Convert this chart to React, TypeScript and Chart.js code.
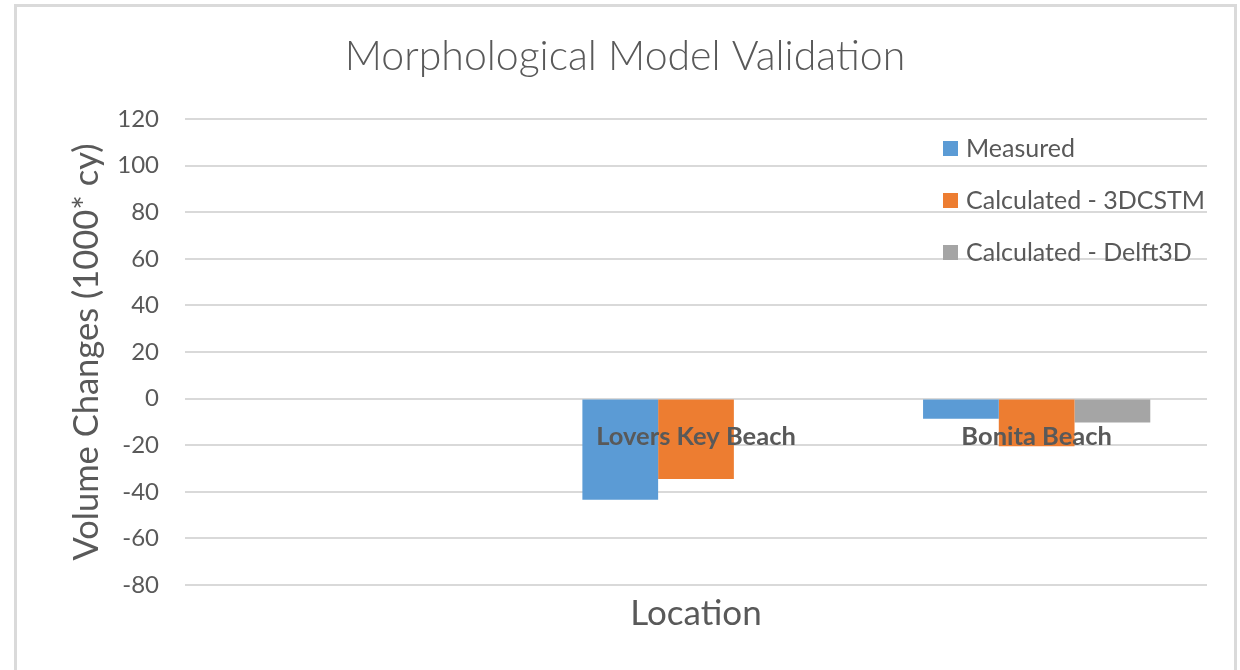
import React, { useEffect, useRef } from "react";
import { Chart, registerables } from "chart.js";

Chart.register(...registerables);

const categories = ["", "Lovers Key Beach", "Bonita Beach"];
const measured = [null, -43.4, -8.6];
const calc3DCSTM = [null, -34.5, -20.5];
const calcDelft3D = [null, null, -10.3];
const seriesNames = ["Measured", "Calculated - 3DCSTM", "Calculated - Delft3D"];
const seriesColors = ["#5B9BD5", "#ED7D31", "#A5A5A5"];
const yMin = -80;
const yMax = 120;
const yStep = 20;
const chartTitle = "Morphological Model Validation";
const yTitle = "Volume Changes (1000* cy)";
const xTitle = "Location";

const FONT = "Lato";
const TEXT = "#595959";
const GRID = "#D9D9D9";

const framePlugin = {
  id: "frame",
  beforeDraw(chart: any) {
    const ctx = chart.ctx;
    ctx.save();
    ctx.fillStyle = "#FFFFFF";
    ctx.fillRect(0, 0, chart.width, chart.height);
    ctx.fillStyle = "#DADADA";
    ctx.fillRect(14, 4, 1223, 3);
    ctx.fillRect(14, 4, 3, chart.height - 4);
    ctx.fillRect(1234, 4, 3, chart.height - 4);
    ctx.restore();
  },
};

const titlePlugin = {
  id: "customTitle",
  afterDraw(chart: any) {
    const ctx = chart.ctx;
    ctx.save();
    ctx.font = `300 41px ${FONT}`;
    ctx.fillStyle = TEXT;
    ctx.textAlign = "center";
    ctx.textBaseline = "middle";
    ctx.fillText(chartTitle, 625, 57);
    ctx.restore();
  },
};

const categoryLabelPlugin = {
  id: "catLabels",
  afterDatasetsDraw(chart: any) {
    const ctx = chart.ctx;
    const xs = chart.scales.x;
    const ys = chart.scales.y;
    const y0 = ys.getPixelForValue(0);
    ctx.save();
    ctx.font = `bold 25.5px ${FONT}`;
    ctx.fillStyle = TEXT;
    ctx.textAlign = "center";
    ctx.textBaseline = "middle";
    categories.forEach((c, i) => {
      if (!c) return;
      ctx.fillText(c, xs.getPixelForValue(i), y0 + 38);
    });
    ctx.restore();
  },
};

const legendPlugin = {
  id: "customLegend",
  afterDraw(chart: any) {
    const ctx = chart.ctx;
    const area = chart.chartArea;
    const x = area.right - 264;
    ctx.save();
    ctx.font = `25px ${FONT}`;
    ctx.textAlign = "left";
    ctx.textBaseline = "middle";
    seriesNames.forEach((name, i) => {
      const cy = area.top + 30 + i * 52;
      ctx.fillStyle = seriesColors[i];
      ctx.fillRect(x, cy - 8, 15, 15);
      ctx.fillStyle = TEXT;
      ctx.fillText(name, x + 23, cy);
    });
    ctx.restore();
  },
};

export default function App() {
  const ref = useRef<HTMLCanvasElement | null>(null);

  useEffect(() => {
    if (!ref.current) return;
    const chart = new Chart(ref.current, {
      type: "bar",
      data: {
        labels: categories,
        datasets: [
          { label: seriesNames[0], data: measured, backgroundColor: seriesColors[0] },
          { label: seriesNames[1], data: calc3DCSTM, backgroundColor: seriesColors[1] },
          { label: seriesNames[2], data: calcDelft3D, backgroundColor: seriesColors[2] },
        ],
      },
      options: {
        responsive: false,
        animation: false,
        devicePixelRatio: 1,
        layout: { padding: { top: 119, right: 33, bottom: 0, left: 0 } },
        datasets: {
          bar: { categoryPercentage: 0.667, barPercentage: 1 },
        },
        plugins: {
          legend: { display: false },
          title: { display: false },
          tooltip: { enabled: false },
        },
        scales: {
          x: {
            grid: { display: false },
            border: { display: false },
            ticks: { display: false },
            title: {
              display: true,
              text: xTitle,
              color: TEXT,
              font: { family: FONT, size: 35 },
              padding: { top: 0, bottom: 35 },
            },
            afterFit(scale: any) {
              scale.height = 85;
            },
          },
          y: {
            min: yMin,
            max: yMax,
            ticks: {
              stepSize: yStep,
              padding: 26,
              color: TEXT,
              font: { family: FONT, size: 24 },
            },
            grid: { color: GRID, lineWidth: 2, drawTicks: false },
            border: { display: false },
            title: {
              display: true,
              text: yTitle,
              color: TEXT,
              font: { family: FONT, size: 34.5 },
              padding: { top: 66, bottom: 0 },
            },
            afterFit(scale: any) {
              scale.width = 185;
            },
          },
        },
      },
      plugins: [framePlugin, categoryLabelPlugin, legendPlugin, titlePlugin],
    } as any);
    return () => chart.destroy();
  }, []);

  return (
    <div style={{ position: "fixed", left: 0, top: 0, width: 1240, height: 670, background: "#fff" }}>
      <canvas ref={ref} width={1240} height={670} style={{ width: 1240, height: 670, display: "block" }} />
    </div>
  );
}
